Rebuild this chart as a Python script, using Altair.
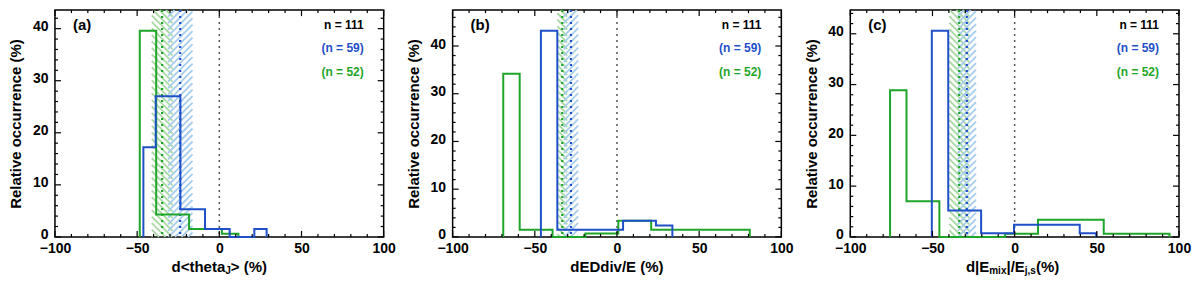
import altair as alt
import numpy as np
import pandas as pd

# ---------------- data ----------------
panel_letters = ["(a)", "(b)", "(c)"]
count_texts = ["n = 111", "(n = 59)", "(n = 52)"]

# panel (a)
a_green_start, a_green_width = -48.4, 10.0
a_green_vals = [39.6, 4.3, 4.3, 1.5, 1.5, 0.6]
a_blue_start, a_blue_width = -46.2, 7.5
a_blue_vals = [17.2, 27.0, 27.0, 5.3, 5.3, 1.5, 1.5, 0.0, 0.0, 1.5]
a_green_mean, a_green_band = -34.8, [-41.1, -28.5]
a_blue_mean, a_blue_band = -23.8, [-31.2, -16.3]

# panel (b)
b_green_start, b_green_width = -69.2, 10.0
b_green_vals = [34.2, 1.5, 1.5, 0.0, 0.0, 0.7, 0.7, 3.4, 3.4, 1.5, 1.5, 1.5, 1.5, 1.5, 1.5]
b_blue_start, b_blue_width = -46.3, 10.0
b_blue_vals = [43.2, 1.5, 1.5, 1.5, 1.5, 3.4, 3.4, 2.4]
b_green_mean, b_green_band = -33.3, [-36.3, -30.3]
b_blue_mean, b_blue_band = -28.0, [-32.4, -23.6]

# panel (c)
c_green_start, c_green_width = -75.8, 10.0
c_green_vals = [28.9, 7.0, 7.0, 0.0, 0.0, 0.0, 0.0, 0.6, 0.6, 3.4, 3.4, 3.4, 3.4, 0.6, 0.6, 0.6, 0.6]
c_blue_start, c_blue_width = -50.4, 10.0
c_blue_vals = [40.6, 5.2, 5.2, 0.7, 0.7, 2.4, 2.4, 2.4, 2.4, 0.7]
c_green_mean, c_green_band = -33.7, [-39.8, -27.6]
c_blue_mean, c_blue_band = -29.1, [-34.7, -23.5]

x_titles = [
    [("d<theta", 15, 0), ("J", 10, 2), ("> (%)", 15, 0)],
    [("dEDdiv/E (%)", 15, 0)],
    [("d|E", 15, 0), ("mix", 10, 2), ("|/E", 15, 0), ("j,s", 10, 2), (" (%)", 15, 0)],
]

x_major = [-100, -50, 0, 50, 100]
x_minor = [-90, -80, -70, -60, -40, -30, -20, -10, 10, 20, 30, 40, 60, 70, 80, 90]

# ---------------- styling ----------------
W, H = 329, 227
XDOM = [-100, 100]
GREEN = "#1fa52a"
BLUE = "#1f50c8"
GREEN_H = "#a9d9a3"
BLUE_H = "#a8cdec"
FONT = "Liberation Sans"

# Arial/Liberation Sans Bold advance widths (per 1000 em)
CW = {' ': 278, '(': 333, ')': 333, '%': 889, '<': 584, '>': 584, '|': 280, '/': 278,
      ',': 278, 'd': 611, 't': 333, 'h': 611, 'e': 556, 'a': 556, 'J': 556, 'E': 667,
      'm': 889, 'i': 278, 'x': 556, 'j': 278, 's': 556, 'D': 722, 'v': 556}


def text_width(s, size):
    return sum(CW.get(ch, 556) for ch in s) * size / 1000.0


def step_points(start, width, vals):
    edges = [start + i * width for i in range(len(vals) + 1)]
    xs = [edges[0]] + edges[:-1] + [edges[-1], edges[-1]]
    ys = [0.0] + list(vals) + [vals[-1], 0.0]
    return pd.DataFrame({"x": xs, "y": ys, "i": list(range(len(xs)))})


def hatch(lo, hi, ymax, direction, spacing=6.5):
    kx = W / (XDOM[1] - XDOM[0])
    a = (lo - XDOM[0]) * kx
    b = (hi - XDOM[0]) * kx
    rows = []
    if direction == "down":  # "\" lines
        for c in np.arange(-b, H - a + spacing, spacing):
            x0, x1 = max(a, -c), min(b, H - c)
            if x1 - x0 > 0.5:
                rows.append((x0, x0 + c, x1, x1 + c))
    else:  # "/" lines
        for c in np.arange(a, H + b + spacing, spacing):
            x0, x1 = max(a, c - H), min(b, c)
            if x1 - x0 > 0.5:
                rows.append((x0, c - x0, x1, c - x1))
    df = pd.DataFrame(rows, columns=["px0", "py0", "px1", "py1"])
    return pd.DataFrame({
        "x": df.px0 / kx + XDOM[0], "y": (H - df.py0) / H * ymax,
        "x2": df.px1 / kx + XDOM[0], "y2": (H - df.py1) / H * ymax,
    })


def panel(idx, g_start, g_width, g_vals, b_start, b_width, b_vals,
          g_mean, g_band, b_mean, b_band):
    ymax = max(max(g_vals), max(b_vals)) * 1.1
    xs = alt.Scale(domain=XDOM, nice=False, zero=False)
    ys = alt.Scale(domain=[0, ymax], nice=False, zero=True)
    xaxis = alt.Axis(values=x_major, format="d", title=None, labelPadding=5,
                     labelFlush=False, labelOverlap=False)
    yaxis = alt.Axis(values=[0, 10, 20, 30, 40], format="d",
                     title="Relative occurrence (%)", labelPadding=7, titlePadding=8,
                     minExtent=23, maxExtent=23, labelOffset=-2)

    def X(f):
        return alt.X(f, scale=xs, axis=xaxis)

    def Y(f):
        return alt.Y(f, scale=ys, axis=yaxis)

    layers = []
    # hatched bands
    for band, col, d in [(g_band, GREEN_H, "down"), (b_band, BLUE_H, "up")]:
        layers.append(alt.Chart(hatch(band[0], band[1], ymax, d)).mark_rule(
            color=col, strokeWidth=1.8).encode(
            x=X("x:Q"), y=Y("y:Q"), x2="x2:Q", y2="y2:Q"))
    # dotted reference lines
    for val, col, sw in [(0.0, "#555555", 1.5), (g_mean, GREEN, 2.2), (b_mean, BLUE, 2.2)]:
        layers.append(alt.Chart(pd.DataFrame({"x": [val]})).mark_rule(
            color=col, strokeWidth=sw, strokeDash=[2, 4]).encode(x=X("x:Q")))
    # histograms
    for start, width, vals, col in [(g_start, g_width, g_vals, GREEN),
                                    (b_start, b_width, b_vals, BLUE)]:
        layers.append(alt.Chart(step_points(start, width, vals)).mark_line(
            interpolate="step-after", color=col, strokeWidth=2).encode(
            x=X("x:Q"), y=Y("y:Q"), order=alt.Order("i:Q")))
    # inward tick marks
    for vals, ln in [(x_major, 6), (x_minor, 3)]:
        d = pd.DataFrame({"x": vals})
        layers.append(alt.Chart(d).mark_rule(color="black", strokeWidth=1.2).encode(
            x=X("x:Q"), y=alt.value(H), y2=alt.value(H - ln)))
        layers.append(alt.Chart(d).mark_rule(color="black", strokeWidth=1.2).encode(
            x=X("x:Q"), y=alt.value(0), y2=alt.value(ln)))
    ymaj = [v for v in range(0, 50, 10) if v <= ymax]
    ymin = [v for v in range(0, 50, 2) if v <= ymax and v % 10 != 0]
    for vals, ln in [(ymaj, 6), (ymin, 3)]:
        d = pd.DataFrame({"y": vals})
        layers.append(alt.Chart(d).mark_rule(color="black", strokeWidth=1.2).encode(
            y=Y("y:Q"), x=alt.value(0), x2=alt.value(ln)))
        layers.append(alt.Chart(d).mark_rule(color="black", strokeWidth=1.2).encode(
            y=Y("y:Q"), x=alt.value(W), x2=alt.value(W - ln)))
    # annotations
    one = pd.DataFrame({"t": [panel_letters[idx]]})
    layers.append(alt.Chart(one).mark_text(
        align="left", baseline="middle", font=FONT, fontWeight="bold", fontSize=15,
        color="black").encode(text="t:N", x=alt.value(18), y=alt.value(15)))
    for txt, col, yy in [(count_texts[0], "black", 15), (count_texts[1], BLUE, 38),
                         (count_texts[2], GREEN, 62)]:
        layers.append(alt.Chart(pd.DataFrame({"t": [txt]})).mark_text(
            align="right", baseline="middle", font=FONT, fontWeight="bold", fontSize=12,
            color=col).encode(text="t:N", x=alt.value(W - 20), y=alt.value(yy)))
    # x-axis title with subscripts
    pieces = x_titles[idx]
    total = sum(text_width(s, sz) for s, sz, _ in pieces)
    x0 = W / 2 - total / 2
    base = H + 35
    for s, sz, dy in pieces:
        layers.append(alt.Chart(pd.DataFrame({"t": [s]})).mark_text(
            align="left", baseline="alphabetic", font=FONT, fontWeight="bold",
            fontSize=sz, color="black").encode(
            text="t:N", x=alt.value(x0), y=alt.value(base + dy)))
        x0 += text_width(s, sz)
    return alt.layer(*layers).properties(width=W, height=H)


pa = panel(0, a_green_start, a_green_width, a_green_vals, a_blue_start, a_blue_width,
           a_blue_vals, a_green_mean, a_green_band, a_blue_mean, a_blue_band)
pb = panel(1, b_green_start, b_green_width, b_green_vals, b_blue_start, b_blue_width,
           b_blue_vals, b_green_mean, b_green_band, b_blue_mean, b_blue_band)
pc = panel(2, c_green_start, c_green_width, c_green_vals, c_blue_start, c_blue_width,
           c_blue_vals, c_green_mean, c_green_band, c_blue_mean, c_blue_band)

chart = alt.hconcat(pa, pb, pc, spacing=9).properties(
    padding={"left": 0, "top": 0, "right": 0, "bottom": 0}
).configure_view(stroke="black", strokeWidth=1.5).configure_axis(
    domain=False, ticks=False, grid=False,
    labelFont=FONT, labelFontWeight="bold", labelFontSize=14, labelColor="black",
    titleFont=FONT, titleFontWeight="bold", titleFontSize=15, titleColor="black",
)

chart.save("out.html", embed_options={"renderer": "svg", "actions": False})
